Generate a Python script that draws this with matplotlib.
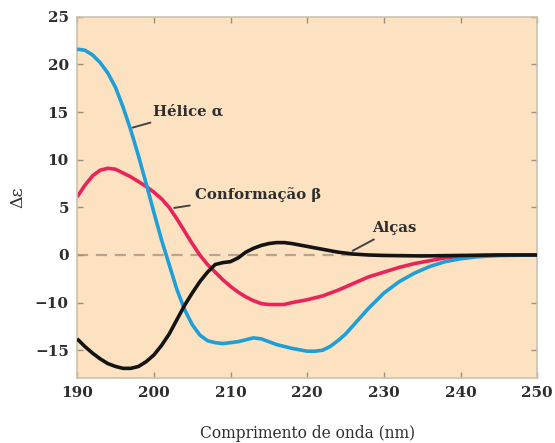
import matplotlib
matplotlib.use("Agg")
from matplotlib import pyplot as plt

# alpha helix
helix_x = [190, 191, 192, 193, 194, 195, 196, 197, 198, 199, 200, 201, 202, 203, 204,
           205, 206, 207, 208, 209, 210, 211, 212, 213, 214, 215, 216, 218, 220, 221,
           222, 223, 224, 225, 226, 227, 228, 229, 230, 232, 234, 236, 238, 240, 242,
           245, 250]
helix_y = [21.6, 21.5, 21.0, 20.2, 19.1, 17.6, 15.5, 13.1, 10.4, 7.5, 4.5, 1.6, -1.0, -3.6, -5.7,
           -7.3, -8.4, -9.0, -9.2, -9.3, -9.2, -9.1, -8.9, -8.7, -8.8, -9.1, -9.4, -9.8, -10.1, -10.1,
           -10.0, -9.6, -9.0, -8.3, -7.4, -6.5, -5.6, -4.8, -4.0, -2.8, -1.9, -1.2, -0.7, -0.4, -0.2,
           -0.05, 0.0]

# beta conformation
beta_x = [190, 191, 192, 193, 194, 195, 196, 197, 198, 199, 200, 201, 202, 203, 204,
          205, 206, 207, 208, 209, 210, 211, 212, 213, 214, 215, 216, 217, 218, 220,
          222, 224, 226, 228, 230, 232, 234, 236, 238, 240, 243, 250]
beta_y = [6.1, 7.3, 8.3, 8.9, 9.1, 9.0, 8.6, 8.2, 7.7, 7.2, 6.6, 5.9, 5.0, 3.8, 2.5,
          1.2, 0.0, -1.0, -1.8, -2.6, -3.3, -3.9, -4.4, -4.8, -5.1, -5.2, -5.2, -5.2, -5.0, -4.7,
          -4.3, -3.7, -3.0, -2.3, -1.8, -1.3, -0.9, -0.6, -0.3, -0.15, -0.05, 0.0]

# loops
loop_x = [190, 191, 192, 193, 194, 195, 196, 197, 198, 199, 200, 201, 202, 203, 204,
          205, 206, 207, 208, 209, 210, 211, 212, 213, 214, 215, 216, 217, 218, 220,
          222, 224, 226, 228, 230, 235, 240, 245, 250]
loop_y = [-8.8, -9.6, -10.3, -10.9, -11.4, -11.7, -11.9, -11.9, -11.7, -11.2, -10.5, -9.5, -8.3, -6.8, -5.3,
          -4.0, -2.8, -1.8, -1.0, -0.8, -0.7, -0.3, 0.3, 0.7, 1.0, 1.2, 1.3, 1.3, 1.2, 0.9,
          0.6, 0.3, 0.1, 0.0, -0.05, -0.1, -0.05, 0.0, 0.0]

xticks = [190, 200, 210, 220, 230, 240, 250]
yticks = [25, 20, 15, 10, 5, 0, -5, -10]
ytick_labels = ["25", "20", "15", "10", "5", "0", "\u221210", "\u221215"]

plt.rcParams['font.family'] = ['DejaVu Serif']
plt.rcParams['font.weight'] = 'bold'

fig = plt.figure(figsize=(5.55, 4.43), dpi=100)
ax = fig.add_axes([0.139, 0.147, 0.829, 0.815])
ax.set_facecolor('#fde2c2')

ax.axhline(0, color='#b8a48c', lw=1.6, ls=(0, (5, 3.5)), zorder=1)
ax.plot(helix_x, helix_y, color='#1e9fd8', lw=2.6, solid_capstyle='butt', zorder=3)
ax.plot(beta_x, beta_y, color='#e8245a', lw=2.6, solid_capstyle='butt', zorder=2)
ax.plot(loop_x, loop_y, color='#141414', lw=2.6, solid_capstyle='butt', zorder=4)

ax.set_xlim(190, 250)
ax.set_ylim(-12.9, 25)
ax.set_xticks(xticks)
ax.set_yticks(yticks)
ax.set_yticklabels(ytick_labels)
ax.tick_params(direction='in', length=4, width=1, color='#9a9080', labelsize=11,
               labelcolor='#2e2e2e', top=True, right=True, pad=6)
for s in ax.spines.values():
    s.set_color('#c9c3b0')
    s.set_linewidth(1.2)

ax.set_xlabel("Comprimento de onda (nm)", fontsize=11.2, color='#2e2e2e', labelpad=18)
ax.set_ylabel("\u0394\u03b5", fontsize=12.5, color='#2e2e2e', labelpad=6)

arrow = dict(arrowstyle='-', color='#444444', lw=1.4)
ax.annotate("H\u00e9lice \u03b1", xy=(196.9, 13.3), xytext=(199.9, 15.0),
            fontsize=10.7, color='#2e2e2e', va='center', ha='left', arrowprops=arrow)
ax.annotate("Conforma\u00e7\u00e3o \u03b2", xy=(202.3, 4.9), xytext=(205.4, 6.3),
            fontsize=10.7, color='#2e2e2e', va='center', ha='left', arrowprops=arrow)
ax.annotate("Al\u00e7as", xy=(225.6, 0.3), xytext=(228.5, 2.8),
            fontsize=10.7, color='#2e2e2e', va='center', ha='left', arrowprops=arrow)

plt.savefig("out.png", dpi=100)
